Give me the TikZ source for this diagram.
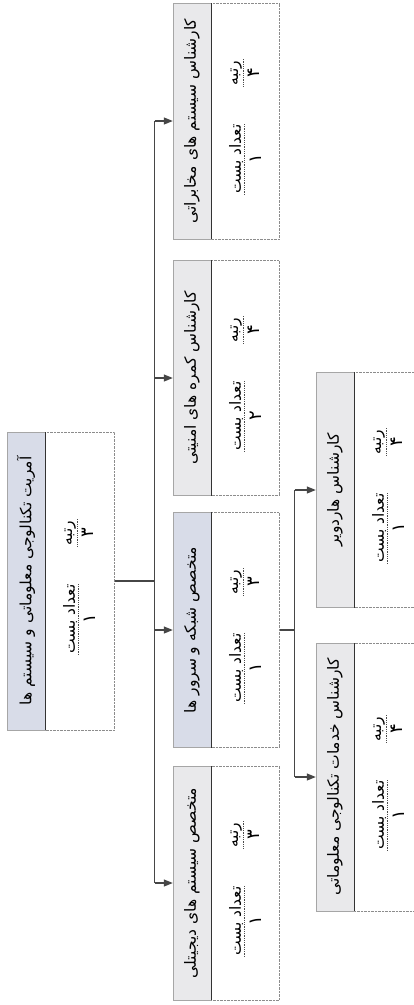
\documentclass[tikz,border=0pt]{standalone}
\usepackage{fontspec}
\usepackage{tikz}
\usetikzlibrary{arrows.meta, positioning, calc}
\newfontfamily\fa[Script=Arabic]{DejaVu Sans}
\TeXXeTstate=1
\definecolor{hdrblue}{RGB}{216,220,232}
\definecolor{hdrgray}{RGB}{233,233,235}
\definecolor{linegray}{RGB}{70,70,70}
\tikzset{
    hdr/.style={rectangle, rotate=90, draw=black!35, minimum height=38pt, inner sep=1pt, font=\fa\fontsize{15.5}{17}\selectfont},
    bodybox/.style={rectangle, rotate=90, draw=black!45, densely dotted, fill=white, inner sep=0pt},
    lbl/.style={rotate=90, inner sep=1pt, font=\fa\fontsize{15.5}{17}\selectfont},
    numlbl/.style={rotate=90, inner sep=1pt, font=\fa\fontsize{18}{20}\selectfont},
    dotline/.style={densely dotted, thick, black!70},
    sepline/.style={black!80, line width=0.8pt},
    line/.style={linegray, line width=1.1pt},
    arrow/.style={-{Triangle[length=9pt, width=7pt]}, linegray, line width=1.1pt},
}
% one box: name, header x, centre y, length, body depth, header colour, title, posts, rank
\newcommand{\orgunit}[9]{%
    \node[hdr, fill=#6, minimum width=#4] (#1) at (#2,#3) {#7};
    \node[bodybox, minimum width=#4, minimum height=#5, anchor=north] (#1-b) at (#1.south) {};
    \draw[sepline] (#1.south west) -- (#1.south east);
    \node[lbl] (#1-posts) at ($(#1.south)+(25,38)$) {\beginR تعداد بست\endR};
    \node[lbl] (#1-rank) at ($(#1.south)+(25,-48)$) {\beginR رتبه\endR};
    \draw[dotline] (#1-posts.south west) -- (#1-posts.south east);
    \draw[dotline] (#1-rank.south west) -- (#1-rank.south east);
    \node[numlbl, anchor=north] (#1-pn) at ($(#1-posts.south)+(4,0)$) {#8};
    \node[numlbl, anchor=north] (#1-rn) at ($(#1-rank.south)+(4,0)$) {#9};
}

\begin{document}
\begin{tikzpicture}[x=1pt, y=-1pt]
    \useasboundingbox[fill=white] (0,0) rectangle (413,1005);

    % Nodes
    \orgunit{root}{26}{581}{298pt}{69pt}{hdrblue}{\beginR آمریت تکنالوجی معلوماتی و سیستم ها\endR}{\beginR ۱\endR}{\beginR ۳\endR}
    \orgunit{comm}{192}{121}{236pt}{68pt}{hdrgray}{\beginR کارشناس سیستم های مخابراتی\endR}{\beginR ۱\endR}{\beginR ۴\endR}
    \orgunit{cam}{192}{378}{235pt}{68pt}{hdrgray}{\beginR کارشناس کمره های امنیتی\endR}{\beginR ۲\endR}{\beginR ۴\endR}
    \orgunit{net}{192}{630}{235pt}{68pt}{hdrblue}{\beginR متخصص شبکه و سرور ها\endR}{\beginR ۱\endR}{\beginR ۳\endR}
    \orgunit{digi}{192}{883}{234pt}{68pt}{hdrgray}{\beginR متخصص سیستم های دیجیتلی\endR}{\beginR ۱\endR}{\beginR ۳\endR}
    \orgunit{hw}{335}{490}{235pt}{62pt}{hdrgray}{\beginR کارشناس هاردویر\endR}{\beginR ۱\endR}{\beginR ۴\endR}
    \orgunit{its}{335}{777}{268pt}{62pt}{hdrgray}{\beginR کارشناس خدمات تکنالوجی معلوماتی\endR}{\beginR ۱\endR}{\beginR ۴\endR}

    % Connections
    \coordinate (bus) at ($(root-b.south)+(40,0)$);
    \draw[line] (root-b.south) -- (bus);
    \draw[line] (bus |- comm.north) -- (bus |- digi.north);
    \foreach \n in {comm, cam, net, digi}
        \draw[arrow] (bus |- \n.north) -- (\n.north);

    \coordinate (bus2) at ($(net-b.south)+(15,0)$);
    \draw[line] (net-b.south) -- (bus2);
    \draw[line] (bus2 |- hw.north) -- (bus2 |- its.north);
    \foreach \n in {hw, its}
        \draw[arrow] (bus2 |- \n.north) -- (\n.north);
\end{tikzpicture}
\end{document}
